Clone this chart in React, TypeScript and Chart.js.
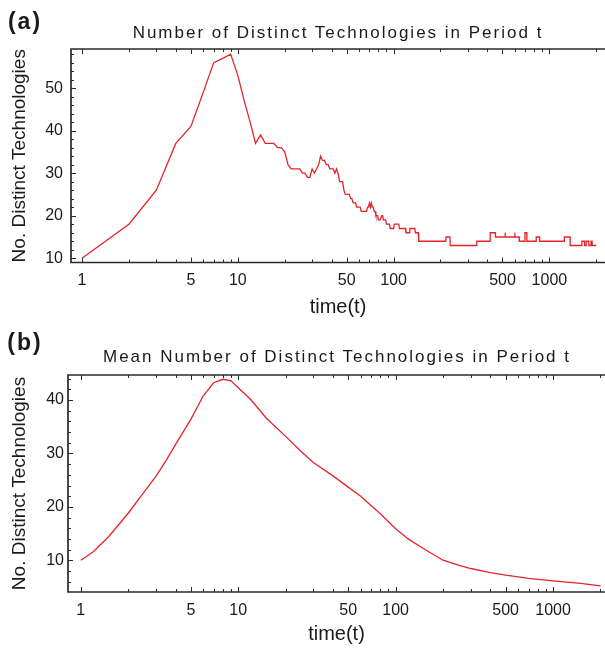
import React, { useEffect, useRef } from "react";
import { Chart, registerables } from "chart.js";

Chart.register(...registerables);

// ---------- Data ----------
// Panel (a): number of distinct technologies in period t (single run)
const timeA = [
  1, 2, 3, 4, 5, 6, 7, 8, 9, 10, 11, 12, 13, 14, 15, 16, 17, 18, 19, 20,
  21, 22, 23, 24, 25, 26, 27, 28, 29, 30, 31, 32, 33, 34, 35, 36, 37, 38, 39, 40,
  41, 42, 43, 44, 45, 46, 47, 48, 49, 50, 51, 52, 53, 54, 55, 56, 57, 58, 59, 60,
  61, 62, 63, 64, 65, 66, 67, 68, 69, 70, 71, 72, 73, 74, 75, 76, 77, 78, 79, 80,
  81, 82, 83, 84, 85, 86, 87, 88, 89, 90, 91, 92, 93, 94, 95, 96, 97, 98, 99, 100,
  101, 108, 109, 119, 120, 126, 127, 137, 138, 144, 145, 216, 217, 230, 231, 341, 342,
  416, 417, 450, 451, 519, 520, 521, 599, 600, 601, 640, 641, 696, 697, 716, 717,
  822, 823, 865, 866, 1247, 1248, 1358, 1359, 1615, 1616, 1680, 1681, 1720, 1721,
  1790, 1791, 1850, 1851, 1880, 1881, 2000,
];
const countA = [
  10, 18, 26, 37, 41, 49, 56, 57, 58, 53, 47, 42, 37, 39, 37, 37, 37, 36, 36, 35,
  32, 31, 31, 31, 31, 30, 30, 29, 29, 31, 30, 31, 32, 34, 33, 33, 32, 32, 31, 31,
  31, 30, 31, 30, 28, 28, 28, 26, 25, 25, 25, 25, 24, 24, 23, 23, 23, 22, 22, 22,
  22, 21, 21, 21, 21, 21, 21, 22, 22, 23, 22, 23, 22, 22, 21, 21, 20, 20, 20, 19,
  19, 19, 19, 20, 20, 19, 19, 19, 19, 18, 18, 18, 18, 18, 17, 17, 17, 17, 17, 17,
  18, 18, 17, 17, 16, 16, 17, 17, 16, 16, 14, 14, 15, 15, 13, 13, 14,
  14, 16, 16, 15, 15, 16, 15, 15, 16, 15, 15, 14, 14, 16, 16, 14,
  14, 15, 15, 14, 14, 15, 15, 13, 13, 14, 14, 13, 13, 14,
  14, 13, 13, 14, 14, 13, 13,
];

// Panel (b): mean number of distinct technologies in period t
const timeB = [
  1, 1.2, 1.5, 2, 2.5, 3, 3.5, 4, 4.5, 5, 6, 7, 8, 9, 10, 12, 15, 20, 25, 30,
  40, 50, 60, 70, 80, 100, 120, 150, 200, 250, 300, 400, 500, 700, 1000, 1500, 2000,
];
const meanB = [
  10, 11.6, 14.4, 18.8, 22.6, 25.7, 28.8, 31.7, 34.2, 36.4, 40.8, 43.3, 43.9, 43.6, 42.3, 40.1, 36.7, 33.2, 30.4, 28.3,
  25.8, 23.7, 22, 20.2, 18.7, 15.9, 14, 12.2, 10, 9.1, 8.45, 7.7, 7.2, 6.6, 6.15, 5.65, 5.2,
];

// Tick values
const xMajorTicks = [1, 5, 10, 50, 100, 500, 1000];
const xMinorTicks = [2, 3, 4, 6, 7, 8, 9, 20, 30, 40, 60, 70, 80, 90, 200, 300, 400, 600, 700, 800, 900, 2000];
const yMajorA = [10, 20, 30, 40, 50];
const yMinorA = [12, 14, 16, 18, 22, 24, 26, 28, 32, 34, 36, 38, 42, 44, 46, 48, 52, 54, 56, 58];
const yMajorB = [10, 20, 30, 40];
const yMinorB = [6, 8, 12, 14, 16, 18, 22, 24, 26, 28, 32, 34, 36, 38, 42, 44];

const titleA = "Number of Distinct Technologies in Period t";
const titleB = "Mean Number of Distinct Technologies in Period t";
const yTitle = "No. Distinct Technologies";
const xTitle = "time(t)";

const FONT = '"Liberation Sans", Arial, Helvetica, sans-serif';
const LINE_RED = "#e3242b";
const FRAME = "#2a2a2a";
const TEXT = "#1a1a1a";

Chart.defaults.font.family = FONT;

function makeFramePlugin(yMajor: number[], yMinor: number[]) {
  return {
    id: "frameTicks",
    afterDatasetsDraw(chart: any) {
      const { ctx, chartArea, scales } = chart;
      const { left, right, top, bottom } = chartArea;
      const x = scales.x;
      const y = scales.y;
      ctx.save();
      ctx.strokeStyle = FRAME;
      ctx.lineWidth = 1;
      const drawX = (v: number, len: number) => {
        const px = Math.round(x.getPixelForValue(v)) + 0.5;
        if (px < left || px > right) return;
        ctx.beginPath();
        ctx.moveTo(px, bottom);
        ctx.lineTo(px, bottom - len);
        ctx.moveTo(px, top);
        ctx.lineTo(px, top + len);
        ctx.stroke();
      };
      const drawY = (v: number, len: number) => {
        const py = Math.round(y.getPixelForValue(v)) + 0.5;
        if (py < top || py > bottom) return;
        ctx.beginPath();
        ctx.moveTo(left, py);
        ctx.lineTo(left + len, py);
        ctx.stroke();
      };
      xMajorTicks.forEach((v) => drawX(v, 5));
      xMinorTicks.forEach((v) => drawX(v, 3));
      yMajor.forEach((v) => drawY(v, 5));
      yMinor.forEach((v) => drawY(v, 3));
      ctx.lineWidth = 1.7;
      ctx.beginPath();
      ctx.moveTo(right + 2, top);
      ctx.lineTo(left, top);
      ctx.lineTo(left, bottom);
      ctx.lineTo(right + 2, bottom);
      ctx.stroke();
      ctx.restore();
    },
  };
}

type PanelSpec = {
  times: number[];
  values: number[];
  xMin: number;
  xMax: number;
  yMin: number;
  yMax: number;
  yMajor: number[];
  yMinor: number[];
  axisWidth: number;
  xAxisHeight: number;
  yLabelPad: number;
  xLabelPad: number;
  yTitlePad: number;
  xTitlePadBottom: number;
};

function makeConfig(p: PanelSpec): any {
  const points = p.times.map((t, i) => ({ x: t, y: p.values[i] }));
  return {
    type: "line",
    data: {
      datasets: [
        {
          data: points,
          borderColor: LINE_RED,
          borderWidth: 1.3,
          pointRadius: 0,
          tension: 0,
          fill: false,
        },
      ],
    },
    options: {
      animation: false,
      responsive: false,
      maintainAspectRatio: false,
      events: [],
      layout: { padding: { top: 49, left: 0, right: 0, bottom: 0 } },
      plugins: {
        legend: { display: false },
        title: { display: false },
        tooltip: { enabled: false },
      },
      scales: {
        x: {
          type: "logarithmic",
          min: p.xMin,
          max: p.xMax,
          bounds: "data",
          border: { display: false },
          grid: { display: false, drawTicks: false },
          afterBuildTicks: (s: any) => {
            s.ticks = xMajorTicks.map((v) => ({ value: v }));
          },
          afterFit: (s: any) => {
            s.height = p.xAxisHeight;
          },
          ticks: {
            autoSkip: false,
            maxRotation: 0,
            padding: p.xLabelPad,
            color: TEXT,
            font: { family: FONT, size: 16 },
            callback: (v: any) => String(v),
          },
          title: {
            display: true,
            text: xTitle,
            color: TEXT,
            font: { family: FONT, size: 20 },
            padding: { top: 0, bottom: p.xTitlePadBottom },
          },
        },
        y: {
          type: "linear",
          min: p.yMin,
          max: p.yMax,
          bounds: "data",
          border: { display: false },
          grid: { display: false, drawTicks: false },
          afterBuildTicks: (s: any) => {
            s.ticks = p.yMajor.map((v) => ({ value: v }));
          },
          afterFit: (s: any) => {
            s.width = p.axisWidth;
          },
          ticks: {
            autoSkip: false,
            padding: p.yLabelPad,
            color: TEXT,
            font: { family: FONT, size: 16 },
            callback: (v: any) => String(v),
          },
          title: {
            display: true,
            text: yTitle,
            color: TEXT,
            font: { family: FONT, size: 19 },
            padding: { top: p.yTitlePad, bottom: 0 },
          },
        },
      },
    },
    plugins: [makeFramePlugin(p.yMajor, p.yMinor)],
  };
}

const textStyle = (cx: number, cy: number, size: number, spacing: number, bold = false): React.CSSProperties => ({
  position: "absolute",
  left: cx,
  top: cy,
  transform: "translate(-50%, -50%)",
  whiteSpace: "nowrap",
  fontFamily: FONT,
  fontSize: size,
  fontWeight: bold ? 700 : 400,
  letterSpacing: spacing,
  color: TEXT,
  lineHeight: 1,
});

export default function App() {
  const refA = useRef<HTMLCanvasElement>(null);
  const refB = useRef<HTMLCanvasElement>(null);

  useEffect(() => {
    const chartA = new Chart(
      refA.current as HTMLCanvasElement,
      makeConfig({
        times: timeA,
        values: countA,
        xMin: 0.85,
        xMax: 2275,
        yMin: 9,
        yMax: 59.2,
        yMajor: yMajorA,
        yMinor: yMinorA,
        axisWidth: 71,
        xAxisHeight: 62.5,
        yLabelPad: 8,
        xLabelPad: 8.5,
        yTitlePad: 8.5,
        xTitlePadBottom: 6,
      })
    );
    const chartB = new Chart(
      refB.current as HTMLCanvasElement,
      makeConfig({
        times: timeB,
        values: meanB,
        xMin: 0.829,
        xMax: 2138,
        yMin: 4.05,
        yMax: 44.7,
        yMajor: yMajorB,
        yMinor: yMinorB,
        axisWidth: 68,
        xAxisHeight: 56,
        yLabelPad: 4,
        xLabelPad: 9,
        yTitlePad: 8,
        xTitlePadBottom: 2,
      })
    );
    return () => {
      chartA.destroy();
      chartB.destroy();
    };
  }, []);

  return (
    <div
      style={{
        position: "absolute",
        left: 0,
        top: 0,
        width: 605,
        height: 648,
        background: "#ffffff",
        overflow: "hidden",
      }}
    >
      <canvas ref={refA} width={605} height={325} style={{ position: "absolute", left: 0, top: 0 }} />
      <canvas ref={refB} width={605} height={322} style={{ position: "absolute", left: 0, top: 326 }} />
      <div style={textStyle(25, 21, 23, 2, true)}>(a)</div>
      <div style={textStyle(338, 31.5, 17, 2)}>{titleA}</div>
      <div style={textStyle(25, 342, 23, 2, true)}>(b)</div>
      <div style={textStyle(337, 356, 17, 2)}>{titleB}</div>
    </div>
  );
}
